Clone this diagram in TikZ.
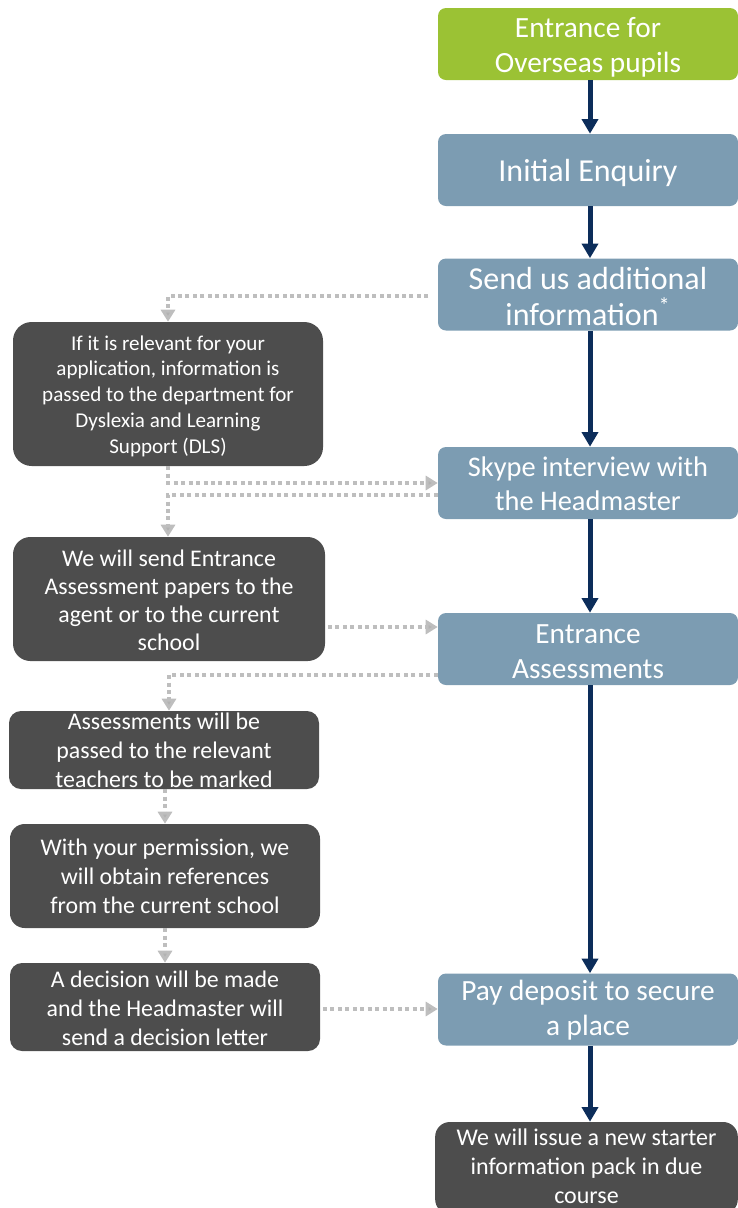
\documentclass[tikz,border=0pt]{standalone}
\usepackage{fontspec}
\setmainfont{Carlito}
\usetikzlibrary{arrows.meta}
\definecolor{boxgreen}{RGB}{155,194,52}
\definecolor{boxblue}{RGB}{124,156,178}
\definecolor{boxdark}{RGB}{77,77,77}
\definecolor{navy}{RGB}{12,45,90}
\definecolor{dotgray}{RGB}{190,190,190}
\definecolor{tipgray}{RGB}{178,178,178}
\tikzset{
  mainbox/.style={fill=boxblue, rounded corners=6pt, minimum width=225pt, minimum height=54pt, inner sep=0pt},
  greenbox/.style={mainbox, fill=boxgreen},
  darkbox/.style={fill=boxdark, rounded corners=11pt, minimum width=232.5pt, inner sep=0pt},
  boxtext/.style={text=white, align=center, inner sep=0pt},
  bigtext/.style={boxtext, font=\fontsize{24}{27}\selectfont, yshift=-2.25pt},
  midtext/.style={boxtext, font=\fontsize{22}{26.25}\selectfont, yshift=-2.25pt},
  lefttext/.style={boxtext, font=\fontsize{17.9}{21.75}\selectfont, yshift=-1.5pt},
  smalltext/.style={boxtext, font=\fontsize{15.8}{19.3}\selectfont, yshift=-1.5pt},
  navyarrow/.style={draw=navy, line width=3.75pt, -{Triangle[width=12pt,length=11pt]}},
  dotarrow/.style={draw=dotgray, line width=3pt, dash pattern=on 3pt off 2.6pt, -{Triangle[width=10.5pt,length=9pt,fill=tipgray]}},
  dotline/.style={draw=dotgray, line width=3pt, dash pattern=on 3pt off 2.6pt},
}
\begin{document}
\begin{tikzpicture}[x=0.75pt,y=-0.75pt]
\useasboundingbox (0,0) rectangle (738,1208);
% right column boxes
\node[greenbox] (entr) at (588,44) {};
\node[midtext] (entr-t) at (entr.center) {Entrance for\\Overseas pupils};
\node[mainbox] (init) at (588,170) {};
\node[bigtext] (init-t) at (init.center) {Initial Enquiry};
\node[mainbox] (send) at (588,294.5) {};
\node[bigtext, yshift=0.75pt] (send-t) at (send.center) {Send us additional\\information\textsuperscript{*}};
\node[mainbox] (skype) at (588,483) {};
\node[midtext, font=\fontsize{21.3}{25.5}\selectfont, yshift=1.5pt] (skype-t) at (skype.center) {Skype interview with\\the Headmaster};
\node[mainbox] (assess) at (588,649) {};
\node[midtext, yshift=0.5pt] (assess-t) at (assess.center) {Entrance\\Assessments};
\node[mainbox] (pay) at (588,1009.5) {};
\node[midtext, yshift=1.5pt] (pay-t) at (pay.center) {Pay deposit to secure\\a place};
\node[darkbox, minimum width=227pt, minimum height=69pt] (issue) at (586.5,1168) {};
\node[lefttext, font=\fontsize{18}{21.6}\selectfont, yshift=2.6pt] (issue-t) at (issue.center) {We will issue a new starter\\information pack in due\\course};
% left column boxes
\node[darkbox, rounded corners=14pt, minimum height=108pt] (b1) at (168,394) {};
\node[smalltext] (b1-t) at (b1.center) {If it is relevant for your\\application, information is\\passed to the department for\\Dyslexia and Learning\\Support (DLS)};
\node[darkbox, rounded corners=13pt, minimum width=234pt, minimum height=93pt] (b2) at (169,599) {};
\node[lefttext, font=\fontsize{17.9}{21}\selectfont, yshift=0.4pt] (b2-t) at (b2.center) {We will send Entrance\\Assessment papers to the\\agent or to the current\\school};
\node[darkbox, minimum height=58.5pt, rounded corners=9pt] (b3) at (164,750) {};
\node[lefttext, yshift=1.5pt] (b3-t) at (b3.center) {Assessments will be\\passed to the relevant\\teachers to be marked};
\node[darkbox, minimum height=78pt] (b4) at (165,876) {};
\node[lefttext, yshift=1.5pt] (b4-t) at (b4.center) {With your permission, we\\will obtain references\\from the current school};
\node[darkbox, minimum height=66pt, rounded corners=9pt] (b5) at (165,1007) {};
\node[lefttext, yshift=0.4pt] (b5-t) at (b5.center) {A decision will be made\\and the Headmaster will\\send a decision letter};
% navy arrows
\draw[navyarrow] ([xshift=1.5pt]entr.south) -- ([xshift=1.5pt]init.north);
\draw[navyarrow] ([xshift=1.5pt]init.south) -- ([xshift=1.5pt]send.north);
\draw[navyarrow] ([xshift=1.5pt]send.south) -- ([xshift=1.5pt]skype.north);
\draw[navyarrow] ([xshift=1.5pt]skype.south) -- ([xshift=1.5pt]assess.north);
\draw[navyarrow] ([xshift=1.5pt]assess.south) -- ([xshift=1.5pt]pay.north);
\draw[navyarrow] ([xshift=1.5pt]pay.south) -- ([xshift=1.5pt]pay.south |- issue.north);
% dotted connectors
\draw[dotarrow] ([xshift=-7pt,yshift=-1pt]send.west) -| (b1.north);
\draw[dotarrow] (b1.south) |- (skype.west);
\draw[dotarrow] ([yshift=-9pt]skype.west) -| ([xshift=-0.75pt]b2.north);
\draw[dotarrow] ([xshift=2pt]b2.east |- 0,627) -- (assess.west |- 0,627);
\draw[dotline] (assess.west |- 0,675) -| (169,690);
\draw[dotarrow] (169,690) -- ([xshift=3.75pt]b3.north);
\draw[dotarrow] ([xshift=0.75pt]b3.south) -- (b4.north);
\draw[dotarrow] (b4.south) -- (b5.north);
\draw[dotarrow] ([xshift=2pt]b5.east |- 0,1009) -- (pay.west |- 0,1009);
\end{tikzpicture}
\end{document}
